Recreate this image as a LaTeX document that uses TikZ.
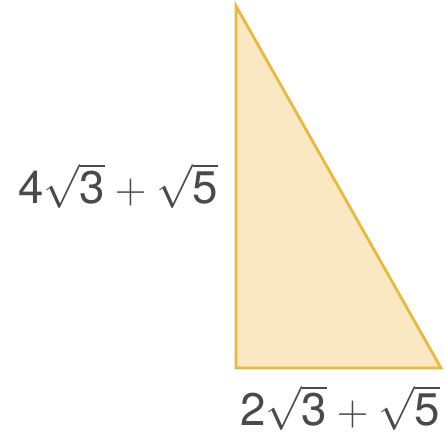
\documentclass[tikz,border=0pt]{standalone}
\usepackage{fontspec}
\setsansfont{TeX Gyre Heros}
\usepackage{tikz}
\usetikzlibrary{positioning, calc}
\usepackage{xcolor}
\definecolor{edgegold}{HTML}{E9B83E}
\definecolor{fillcream}{HTML}{FAE8C2}
\definecolor{labelgray}{HTML}{4A4A4A}

\begin{document}
\begin{tikzpicture}[
    x=0.02cm, y=-0.02cm,
    triangle/.style={draw=edgegold, fill=fillcream, line width=1.6pt, line join=miter},
    sidelabel/.style={text=labelgray, inner sep=0pt, font=\fontsize{26}{31}\selectfont},
]
\useasboundingbox (0,0) rectangle (446,436);

\coordinate (top) at (236,6);
\coordinate (corner) at (236,368);
\coordinate (right) at (441,368);

\draw[triangle] (top) -- (corner) -- (right) -- cycle;

\node[sidelabel] (height) at (118,186) {$\mathsf{4}\sqrt{\mathsf{3}}+\sqrt{\mathsf{5}}$};
\node[sidelabel] (base) at (340,408) {$\mathsf{2}\sqrt{\mathsf{3}}+\sqrt{\mathsf{5}}$};

\end{tikzpicture}
\end{document}
